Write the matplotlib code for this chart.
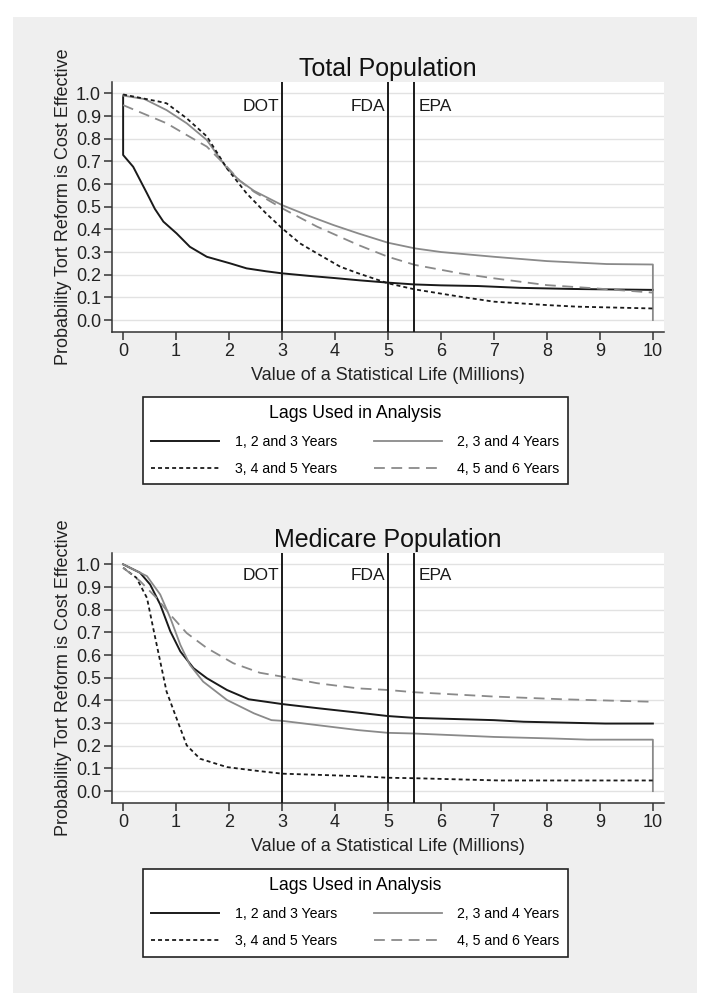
import matplotlib
matplotlib.use("Agg")
import matplotlib.pyplot as plt
from matplotlib.patches import Rectangle

plt.rcParams['font.family'] = ['Liberation Sans', 'DejaVu Sans']

# ---------------- data ----------------
series_labels = ["1, 2 and 3 Years", "2, 3 and 4 Years", "3, 4 and 5 Years", "4, 5 and 6 Years"]
panel_titles = ["Total Population", "Medicare Population"]
x_ticks = [0, 1, 2, 3, 4, 5, 6, 7, 8, 9, 10]
y_ticks = [0.0, 0.1, 0.2, 0.3, 0.4, 0.5, 0.6, 0.7, 0.8, 0.9, 1.0]
policy_x = [3, 5, 5.5]
policy_labels = ["DOT", "FDA", "EPA"]

# Total population
tot_x_123 = [0, 0, 0.19, 0.45, 0.6, 0.76, 1.01, 1.26, 1.58, 2.02, 2.33, 2.7, 3.0, 3.5, 4.0, 4.47, 5.0, 5.5, 6.0, 6.7, 7.5, 8.5, 9.2, 10]
tot_y_123 = [0.99, 0.728, 0.676, 0.559, 0.49, 0.434, 0.382, 0.323, 0.279, 0.25, 0.228, 0.215, 0.206, 0.195, 0.185, 0.175, 0.165, 0.157, 0.153, 0.15, 0.142, 0.137, 0.135, 0.133]
tot_x_234 = [0, 0.4, 0.82, 1.2, 1.58, 1.96, 2.2, 2.47, 3.0, 3.5, 3.97, 4.44, 5.0, 5.51, 6.0, 7.0, 8.0, 9.13, 10, 10]
tot_y_234 = [0.99, 0.975, 0.926, 0.868, 0.794, 0.669, 0.615, 0.57, 0.507, 0.46, 0.419, 0.382, 0.341, 0.316, 0.3, 0.279, 0.26, 0.247, 0.245, 0.0]
tot_x_345 = [0, 0.69, 0.82, 1.2, 1.58, 1.96, 2.33, 2.7, 3.0, 3.34, 3.66, 4.1, 4.44, 5.0, 5.51, 6.36, 7.0, 8.0, 8.57, 10]
tot_y_345 = [0.995, 0.963, 0.956, 0.89, 0.81, 0.669, 0.559, 0.47, 0.405, 0.338, 0.294, 0.235, 0.206, 0.162, 0.135, 0.103, 0.081, 0.066, 0.059, 0.051]
tot_x_456 = [0, 0.45, 0.82, 1.2, 1.58, 1.96, 2.2, 2.47, 3.0, 3.66, 4.44, 5.0, 5.51, 6.36, 7.0, 8.0, 8.9, 10]
tot_y_456 = [0.948, 0.904, 0.868, 0.816, 0.765, 0.676, 0.615, 0.566, 0.493, 0.412, 0.331, 0.279, 0.243, 0.206, 0.184, 0.154, 0.14, 0.121]

# Medicare population
med_x_123 = [0, 0.32, 0.51, 0.7, 0.89, 1.08, 1.33, 1.58, 1.96, 2.37, 3.0, 3.7, 4.44, 5.0, 5.5, 7.0, 7.56, 9.1, 10]
med_y_123 = [1.0, 0.963, 0.911, 0.823, 0.705, 0.616, 0.542, 0.498, 0.446, 0.405, 0.384, 0.365, 0.346, 0.331, 0.323, 0.313, 0.306, 0.298, 0.298]
med_x_234 = [0, 0.45, 0.7, 0.89, 1.08, 1.26, 1.51, 1.96, 2.47, 2.8, 3.0, 4.44, 5.0, 5.5, 7.0, 8.13, 8.77, 10, 10]
med_y_234 = [1.0, 0.948, 0.867, 0.764, 0.645, 0.557, 0.483, 0.402, 0.343, 0.313, 0.31, 0.269, 0.257, 0.254, 0.239, 0.232, 0.227, 0.227, 0.0]
med_x_345 = [0, 0.25, 0.45, 0.58, 0.7, 0.82, 1.01, 1.2, 1.45, 1.96, 2.47, 3.0, 4.44, 5.0, 5.5, 7.1, 10]
med_y_345 = [0.985, 0.941, 0.852, 0.705, 0.572, 0.439, 0.32, 0.202, 0.143, 0.106, 0.091, 0.077, 0.066, 0.059, 0.057, 0.047, 0.047]
med_x_456 = [0, 0.32, 0.63, 0.89, 1.2, 1.58, 2.08, 2.58, 3.0, 3.66, 4.44, 5.0, 5.5, 7.0, 8.3, 10]
med_y_456 = [0.985, 0.926, 0.852, 0.778, 0.697, 0.631, 0.564, 0.522, 0.505, 0.476, 0.453, 0.446, 0.436, 0.417, 0.405, 0.394]

panels = [
    [(tot_x_123, tot_y_123), (tot_x_234, tot_y_234), (tot_x_345, tot_y_345), (tot_x_456, tot_y_456)],
    [(med_x_123, med_y_123), (med_x_234, med_y_234), (med_x_345, med_y_345), (med_x_456, med_y_456)],
]

# ---------------- styles ----------------
BLACK = "#1a1a1a"
GRAY = "#8a8a8a"
styles = [
    dict(color=BLACK, lw=1.4, ls="-"),
    dict(color=GRAY, lw=1.3, ls="-"),
    dict(color=BLACK, lw=1.3, ls=(0, (2.2, 1.7))),
    dict(color=GRAY, lw=1.3, ls=(0, (6, 3.6))),
]

fig = plt.figure(figsize=(7.13, 10.08), dpi=100, facecolor="white")
bg = Rectangle((13 / 713, 1 - 993 / 1008), (697 - 13) / 713, (993 - 17) / 1008,
               transform=fig.transFigure, facecolor="#efefef", edgecolor="none", zorder=-10)
fig.add_artist(bg)

ax_rects = [
    [112 / 713, 1 - 331.6 / 1008, (664 - 112) / 713, (331.6 - 82) / 1008],
    [112 / 713, 1 - 802.7 / 1008, (664 - 112) / 713, (802.7 - 553) / 1008],
]
legend_tops = [1 - 397 / 1008, 1 - 869 / 1008]
label_y = [0.94, 0.95]

for p, rect in enumerate(ax_rects):
    ax = fig.add_axes(rect)
    ax.set_zorder(1)
    ax.set_facecolor("white")
    lines = []
    for (xs, ys), st in zip(panels[p], styles):
        ln, = ax.plot(xs, ys, color=st["color"], lw=st["lw"], linestyle=st["ls"], zorder=3)
        lines.append(ln)
    for xv, lab in zip(policy_x, policy_labels):
        ax.axvline(xv, color=BLACK, lw=1.4, zorder=4)
        if lab == "EPA":
            ax.text(xv + 0.08, label_y[p], lab, ha="left", va="center", fontsize=12.5, color=BLACK)
        else:
            ax.text(xv - 0.06, label_y[p], lab, ha="right", va="center", fontsize=12.5, color=BLACK)
    ax.set_xlim(-0.21, 10.21)
    ax.set_ylim(-0.051, 1.05)
    ax.set_xticks(x_ticks)
    ax.set_yticks(y_ticks)
    ax.set_yticklabels([f"{v:.1f}" for v in y_ticks])
    ax.yaxis.grid(True, color="#e2e2e2", lw=1.0)
    ax.set_axisbelow(True)
    for s in ["top", "right"]:
        ax.spines[s].set_visible(False)
    for s in ["left", "bottom"]:
        ax.spines[s].set_color("#333333")
        ax.spines[s].set_linewidth(1.1)
    ax.tick_params(axis="both", direction="out", length=5.5, width=1.1, color="#333333",
                   labelsize=13, pad=2.5, labelcolor="#222222")
    ax.set_title(panel_titles[p], fontsize=18, pad=4, color="#111111")
    ax.set_ylabel("Probability Tort Reform is Cost Effective", fontsize=13, labelpad=3, color="#222222")
    ax.set_xlabel("Value of a Statistical Life (Millions)", fontsize=13, labelpad=5, color="#222222")

    order = [0, 2, 1, 3]
    leg = fig.legend([lines[i] for i in order], [series_labels[i] for i in order],
                     loc="upper center", bbox_to_anchor=(355.5 / 713, legend_tops[p]),
                     ncol=2, title="Lags Used in Analysis", title_fontsize=12.7, fontsize=10.2,
                     frameon=True, fancybox=False, edgecolor="#222222", facecolor="white",
                     framealpha=1, handlelength=4.8, handletextpad=1.1, columnspacing=2.6,
                     labelspacing=0.9, borderpad=0.6, borderaxespad=0)
    leg.get_frame().set_linewidth(1.2)

fig.savefig("out.png", dpi=100, facecolor="white")
